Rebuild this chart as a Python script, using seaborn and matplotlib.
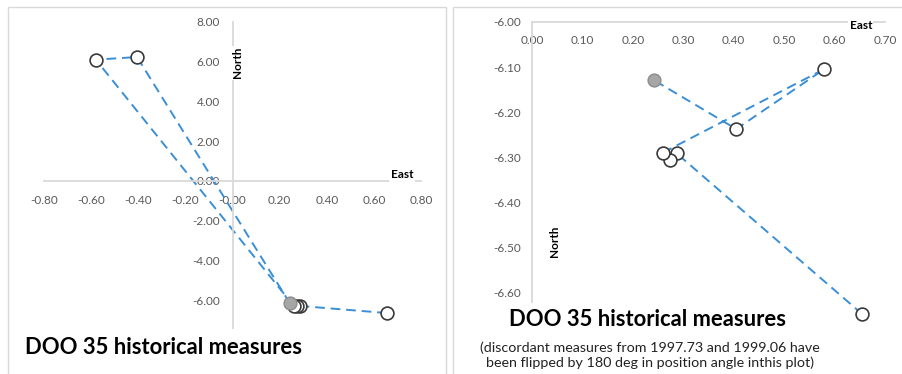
import matplotlib
matplotlib.use("Agg")
import matplotlib.pyplot as plt
import seaborn as sns
import pandas as pd
import numpy as np
from matplotlib.patches import Rectangle
from matplotlib.ticker import FormatStrFormatter

# measures of DOO 35 (East, North), in time order, last one is the newest
east = [0.655, 0.287, 0.274, 0.260, -0.580, -0.405, 0.242]
north = [-6.647, -6.291, -6.305, -6.289, 6.104, 6.237, -6.129]
flipped = [False, False, False, False, True, True, False]  # turned by 180 deg in right plot
newest = [False, False, False, False, False, False, True]

title = "DOO 35 historical measures"
note = ("(discordant measures from 1997.73 and 1999.06 have\n"
        "been flipped by 180 deg in position angle inthis plot)")

df = pd.DataFrame({"east": east, "north": north, "flipped": flipped, "newest": newest})
# right plot: flip the discordant ones
df["east_f"] = np.where(df["flipped"], -df["east"], df["east"])
df["north_f"] = np.where(df["flipped"], -df["north"], df["north"])

sns.set_style("white")
plt.rcParams["font.family"] = ["Lato", "DejaVu Sans"]

LINE = "#3a8fd6"
GRID = "#d9d9d9"
TXT = "#595959"

fig = plt.figure(figsize=(9.02, 3.74), dpi=100)
W, H = 902, 374

# panel frames
fig.add_artist(Rectangle((8 / W, -0.05), (446 - 8) / W, 1.05 - 7 / H,
                         transform=fig.transFigure, fill=False, ec=GRID, lw=1))
fig.add_artist(Rectangle((453 / W, -0.05), 0.5, 1.05 - 7 / H,
                         transform=fig.transFigure, fill=False, ec=GRID, lw=1))


def draw(ax, xcol, ycol):
    sns.lineplot(data=df, x=xcol, y=ycol, sort=False, estimator=None, ax=ax,
                 color=LINE, lw=1.4, linestyle=(0, (5, 3)), clip_on=False)
    old = df[~df["newest"]]
    new = df[df["newest"]]
    sns.scatterplot(data=old, x=xcol, y=ycol, ax=ax, s=85, color="white",
                    edgecolor="#3a3a3a", linewidth=1.2, clip_on=False, zorder=3)
    sns.scatterplot(data=new, x=xcol, y=ycol, ax=ax, s=85, color="#a6a6a6",
                    edgecolor="#8c8c8c", linewidth=1.0, clip_on=False, zorder=3)
    ax.set_xlabel("")
    ax.set_ylabel("")
    for s in ["top", "right"]:
        ax.spines[s].set_visible(False)
    for s in ["left", "bottom"]:
        ax.spines[s].set_color(GRID)
        ax.spines[s].set_linewidth(1.3)
    ax.tick_params(direction="out", length=4, width=1, color=GRID,
                   labelcolor=TXT, labelsize=8.5)
    ax.xaxis.set_major_formatter(FormatStrFormatter("%.2f"))
    ax.yaxis.set_major_formatter(FormatStrFormatter("%.2f"))
    ax.patch.set_alpha(0)


lab = dict(fontsize=8.5, fontweight="bold", color="black",
           bbox=dict(fc="white", ec="none", pad=1))

# left: full view
ax1 = fig.add_axes([44 / W, 46 / H, 377 / W, 306 / H])
draw(ax1, "east", "north")
ax1.set_xlim(-0.8, 0.8)
ax1.set_ylim(-7.4, 8)
ax1.set_xticks(np.round(np.arange(-0.8, 0.81, 0.2), 2))
ax1.set_yticks(np.arange(-6, 9, 2))
ax1.spines["left"].set_position(("data", 0))
ax1.spines["bottom"].set_position(("data", 0))
ax1.tick_params(axis="x", pad=6)
ax1.tick_params(axis="y", pad=5)
ax1.text(0.72, 0.3, "East", ha="center", va="center", **lab)
ax1.text(0.023, 5.95, "North", ha="center", va="center", rotation=90, **lab)

# right: zoom on the close pair, discordant ones flipped
ax2 = fig.add_axes([532 / W, 72 / H, 353 / W, 280 / H])
draw(ax2, "east_f", "north_f")
ax2.set_xlim(0, 0.7)
ax2.set_ylim(-6.62, -6.0)
ax2.set_xticks(np.round(np.arange(0, 0.71, 0.1), 2))
ax2.set_yticks(np.round(np.arange(-6.6, -5.99, 0.1), 2))
ax2.spines["bottom"].set_position(("data", -6.0))
ax2.tick_params(axis="x", pad=5)
ax2.tick_params(axis="y", pad=4)
ax2.text(0.652, -6.007, "East", ha="center", va="center", **lab)
ax2.text(0.0456, -6.486, "North", ha="center", va="center", rotation=90, **lab)

fig.text(25 / W, 1 - 347 / H, title, fontsize=15.8, fontweight="bold",
         ha="left", va="center", color="black")
fig.text(509 / W, 1 - 320 / H, title, fontsize=15.8, fontweight="bold",
         ha="left", va="center", color="black")
fig.text(650 / W, 1 - 355 / H, note, fontsize=10.3, ha="center", va="center",
         linespacing=1.2, color="#222222")

fig.savefig("out.png", dpi=100)
